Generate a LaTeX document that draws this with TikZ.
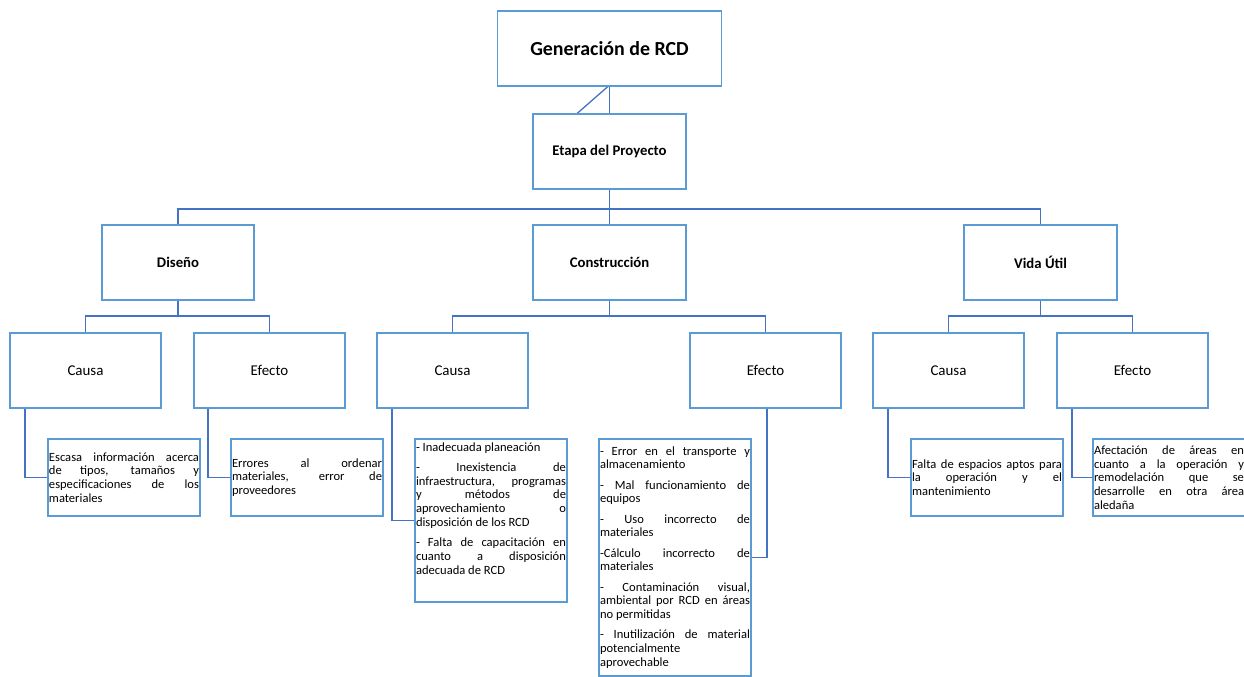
\documentclass[tikz,border=0pt]{standalone}
\usepackage{fontspec}
\setmainfont{Carlito}
\usetikzlibrary{backgrounds,calc}
\definecolor{boxblue}{HTML}{5B9BD5}
\definecolor{lineblue}{HTML}{4472C4}
\newcommand\smalltxt{\fontsize{12.6}{13.8}\selectfont\parskip=6.5bp\parindent=0pt\hyphenpenalty=10000\exhyphenpenalty=10000\tolerance=10000\hbadness=10000}
\begin{document}
\begin{tikzpicture}[x=1bp,y=-1bp,
  box/.style={draw=boxblue, line width=1.7bp, fill=white, inner sep=0pt, outer sep=0pt, align=center, text=black},
  titlebox/.style={box, minimum width=224bp, minimum height=75bp, font=\bfseries\fontsize{20}{24}\selectfont},
  headbox/.style={box, minimum width=153bp, minimum height=75bp, font=\bfseries\fontsize{14.8}{17}\selectfont},
  subbox/.style={box, minimum width=151bp, minimum height=75bp, font=\fontsize{15}{18}\selectfont},
  tbox/.style={draw=boxblue, line width=1.7bp, fill=white, inner sep=1bp, outer sep=0pt, text width=150bp, align=justify, minimum height=77bp, text=black, font=\smalltxt},
  ttext/.style={inner sep=1bp, outer sep=0pt, text width=150bp, align=justify, text=black, font=\smalltxt},
  conn/.style={draw=lineblue, line width=1.3bp}
]
\useasboundingbox (0,0) rectangle (1244,677);

\node[titlebox] (gen) at (609.5,48.5) {Generación de RCD};
\node[headbox] (etapa) at (609.5,151.5) {Etapa del Proyecto};
\node[headbox, minimum width=152bp] (dis) at (178,262.5) {Diseño};
\node[headbox] (con) at (609.5,262.5) {Construcción};
\node[headbox] (vida) at (1040.5,262.5) {Vida Útil};

\node[subbox] (dc) at (85.5,370.5) {Causa};
\node[subbox] (de) at (269.5,370.5) {Efecto};
\node[subbox] (cc) at (452.5,370.5) {Causa};
\node[subbox] (ce) at (765.5,370.5) {Efecto};
\node[subbox] (vc) at (948.5,370.5) {Causa};
\node[subbox] (ve) at (1132.5,370.5) {Efecto};

\node[tbox] (dct) at (124,477.5) {Escasa información acerca\linebreak de tipos, tamaños y\linebreak especificaciones de los\linebreak materiales};
\node[tbox] (det) at (307,477.5) {Errores al ordenar\linebreak materiales, error de\linebreak proveedores};

\node[tbox, minimum height=163bp] (cct) at (491,520.5) {};
\node[ttext, anchor=north west] (cctx) at ([yshift=-2.5bp]cct.north west) {- Inadecuada planeación\par - Inexistencia de\linebreak infraestructura, programas\linebreak y métodos de\linebreak aprovechamiento o\linebreak disposición de los RCD\par - Falta de capacitación en\linebreak cuanto a disposición\linebreak adecuada de RCD};

\node[tbox, minimum height=237bp] (cet) at (675,557.5) {};
\node[ttext, anchor=north west] (cetx) at ([yshift=-6.5bp]cet.north west) {- Error en el transporte y\linebreak almacenamiento\par - Mal funcionamiento de\linebreak equipos\par - Uso incorrecto de\linebreak materiales\par -Cálculo incorrecto de\linebreak materiales\par - Contaminación visual,\linebreak ambiental por RCD en áreas\linebreak no permitidas\par - Inutilización de material\linebreak potencialmente\linebreak aprovechable};

\node[tbox] (vct) at (987,477.5) {Falta de espacios aptos para\linebreak la operación y el\linebreak mantenimiento};
\node[tbox] (vet) at (1169,477.5) {Afectación de áreas en\linebreak cuanto a la operación y\linebreak remodelación que se\linebreak desarrolle en otra área\linebreak aledaña};

\begin{scope}[on background layer]
\fill[white] (0,0) rectangle (1244,677);
\draw[conn] (gen.south) -- (etapa.north);
\draw[conn] ([xshift=-1bp]gen.south) -- ([xshift=-33bp]etapa.north);
\draw[conn] (etapa.south) -- ++(0,20) -| (dis.north);
\draw[conn] (etapa.south) -- ++(0,20) -| (vida.north);
\draw[conn] (etapa.south) -- (con.north);
\draw[conn] (dis.south) -- ++(0,16) -| (dc.north);
\draw[conn] (dis.south) -- ++(0,16) -| (de.north);
\draw[conn] (con.south) -- ++(0,16) -| (cc.north);
\draw[conn] (con.south) -- ++(0,16) -| (ce.north);
\draw[conn] (vida.south) -- ++(0,16) -| (vc.north);
\draw[conn] (vida.south) -- ++(0,16) -| (ve.north);
\draw[conn] ([xshift=15bp]dc.south west) |- (dct.west);
\draw[conn] ([xshift=14bp]de.south west) |- (det.west);
\draw[conn] ([xshift=15bp]cc.south west) |- (cct.west);
\draw[conn] ([xshift=1.5bp]ce.south) |- (cet.east);
\draw[conn] ([xshift=15bp]vc.south west) |- (vct.west);
\draw[conn] ([xshift=15bp]ve.south west) |- (vet.west);
\end{scope}
\end{tikzpicture}
\end{document}
